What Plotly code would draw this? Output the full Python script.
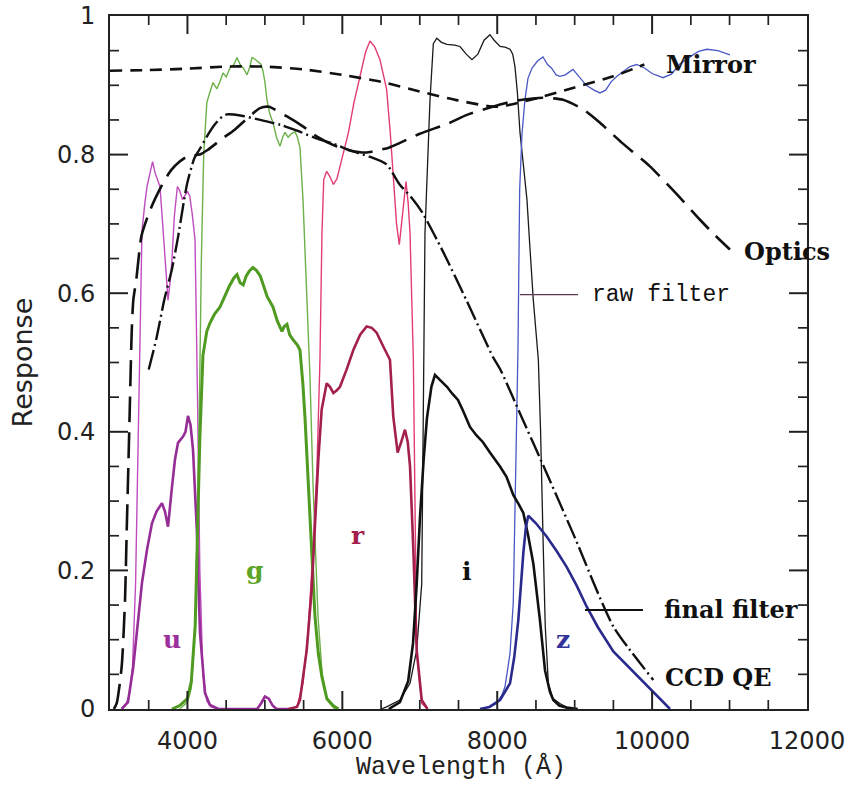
import plotly.graph_objects as go

# ---------------- data ----------------
mirror_x = [3000, 3500, 4000, 4500, 5000, 5500, 6000, 6500, 7000, 7500, 8000, 8500, 9000, 9500, 9900]
mirror_y = [0.921, 0.922, 0.924, 0.927, 0.927, 0.923, 0.915, 0.905, 0.891, 0.878, 0.869, 0.881, 0.897, 0.913, 0.930]

optics_x = [3050, 3086, 3150, 3194, 3215, 3237, 3258, 3280, 3301, 3340, 3405, 3500, 3577, 3700, 3792, 3900, 4007,
            4157, 4265, 4437, 4610, 4800, 4937, 5050, 5285, 5500, 5673, 5900, 6100, 6300, 6450, 6600, 6744, 7000,
            7390, 7600, 7906, 8200, 8591, 8849, 9100, 9327, 9600, 9972, 10300, 10618, 10800, 11005]
optics_y = [0.0, 0.008, 0.06, 0.157, 0.254, 0.35, 0.446, 0.543, 0.59, 0.62, 0.682, 0.715, 0.735, 0.762, 0.778, 0.79,
            0.798, 0.80, 0.807, 0.822, 0.836, 0.855, 0.867, 0.869, 0.855, 0.84, 0.826, 0.813, 0.806, 0.803, 0.806,
            0.81, 0.817, 0.83, 0.846, 0.857, 0.868, 0.877, 0.882, 0.879, 0.866, 0.846, 0.818, 0.783, 0.745, 0.706,
            0.685, 0.663]

ccd_x = [3500, 3600, 3700, 3800, 3880, 3950, 4000, 4090, 4170, 4250, 4350, 4450, 4510, 4700, 4940, 5200, 5450,
         5700, 5880, 6100, 6350, 6570, 6740, 6900, 7040, 7300, 7610, 7945, 8040, 8300, 8620, 9000, 9500, 10015]
ccd_y = [0.49, 0.535, 0.59, 0.635, 0.682, 0.73, 0.76, 0.795, 0.81, 0.826, 0.843, 0.855, 0.858, 0.856, 0.85, 0.843,
         0.833, 0.822, 0.816, 0.806, 0.797, 0.786, 0.757, 0.737, 0.715, 0.66, 0.588, 0.508, 0.49, 0.425, 0.345,
         0.248, 0.119, 0.042]

u_raw_x = [3150, 3200, 3250, 3290, 3330, 3360, 3390, 3413, 3450, 3478, 3510, 3550, 3581, 3645, 3680, 3710, 3749,
           3780, 3800, 3830, 3870, 3900, 3935, 4000, 4030, 4060, 4098, 4130, 4160, 4200, 4250, 4300, 4400, 4900,
           4950, 5000, 5050, 5100, 5150, 5300]
u_raw_y = [0.0, 0.005, 0.02, 0.06, 0.18, 0.38, 0.58, 0.69, 0.73, 0.754, 0.77, 0.79, 0.774, 0.754, 0.70, 0.648,
           0.59, 0.62, 0.648, 0.71, 0.754, 0.748, 0.735, 0.747, 0.74, 0.716, 0.677, 0.45, 0.2, 0.05, 0.012, 0.003,
           0.0, 0.0, 0.008, 0.018, 0.015, 0.005, 0.0, 0.0]

u_fin_x = [3150, 3232, 3300, 3362, 3413, 3478, 3542, 3600, 3671, 3710, 3749, 3800, 3839, 3878, 3943, 3975, 4007,
           4040, 4072, 4123, 4162, 4226, 4290, 4400, 4900, 4950, 5000, 5050, 5100, 5150, 5300]
u_fin_y = [0.0, 0.01, 0.06, 0.133, 0.182, 0.23, 0.268, 0.285, 0.297, 0.285, 0.263, 0.32, 0.36, 0.384, 0.393, 0.40,
           0.423, 0.41, 0.374, 0.254, 0.11, 0.023, 0.006, 0.0, 0.0, 0.008, 0.018, 0.015, 0.005, 0.0, 0.0]

g_raw_x = [3900, 4000, 4050, 4100, 4150, 4180, 4210, 4250, 4290, 4330, 4380, 4420, 4460, 4500, 4550, 4600, 4640,
           4680, 4720, 4770, 4800, 4834, 4870, 4911, 4950, 4976, 5000, 5027, 5060, 5105, 5150, 5195, 5230, 5260,
           5300, 5340, 5389, 5420, 5453, 5492, 5540, 5582, 5621, 5660, 5686, 5740, 5802, 5900]
g_raw_y = [0.0, 0.01, 0.03, 0.12, 0.4, 0.65, 0.8, 0.875, 0.89, 0.904, 0.895, 0.905, 0.918, 0.912, 0.925, 0.93,
           0.94, 0.93, 0.925, 0.915, 0.925, 0.94, 0.938, 0.934, 0.93, 0.92, 0.905, 0.879, 0.86, 0.846, 0.825, 0.812,
           0.825, 0.832, 0.825, 0.83, 0.833, 0.825, 0.81, 0.735, 0.6, 0.48, 0.326, 0.2, 0.133, 0.05, 0.013, 0.0]

g_fin_x = [3800, 3900, 4000, 4050, 4100, 4130, 4160, 4200, 4250, 4291, 4350, 4420, 4480, 4540, 4600, 4640, 4680,
           4720, 4760, 4800, 4846, 4890, 4940, 4980, 5030, 5105, 5160, 5221, 5250, 5285, 5320, 5363, 5420, 5453,
           5490, 5518, 5550, 5582, 5615, 5647, 5690, 5737, 5800, 5880, 5950]
g_fin_y = [0.0, 0.005, 0.015, 0.04, 0.12, 0.24, 0.39, 0.51, 0.545, 0.557, 0.57, 0.58, 0.595, 0.61, 0.622, 0.627,
           0.615, 0.612, 0.625, 0.632, 0.637, 0.633, 0.625, 0.61, 0.595, 0.58, 0.56, 0.545, 0.552, 0.555, 0.54,
           0.533, 0.525, 0.518, 0.47, 0.42, 0.35, 0.277, 0.2, 0.133, 0.08, 0.046, 0.015, 0.005, 0.0]

r_raw_x = [5300, 5414, 5492, 5557, 5621, 5673, 5711, 5737, 5760, 5798, 5840, 5884, 5930, 5970, 6077, 6150, 6228,
           6300, 6357, 6420, 6486, 6572, 6620, 6658, 6700, 6736, 6780, 6822, 6850, 6874, 6917, 6960, 7025, 7100]
r_raw_y = [0.0, 0.003, 0.037, 0.11, 0.23, 0.35, 0.504, 0.687, 0.764, 0.776, 0.768, 0.757, 0.765, 0.783, 0.831,
           0.875, 0.913, 0.948, 0.964, 0.955, 0.937, 0.894, 0.83, 0.764, 0.70, 0.67, 0.72, 0.761, 0.73, 0.687,
           0.504, 0.085, 0.008, 0.0]

r_fin_x = [5300, 5414, 5453, 5540, 5604, 5647, 5690, 5733, 5798, 5840, 5884, 5930, 5970, 6056, 6142, 6230, 6314,
           6380, 6443, 6529, 6615, 6658, 6714, 6760, 6809, 6845, 6874, 6917, 6960, 7025, 7100]
r_fin_y = [0.0, 0.003, 0.013, 0.085, 0.172, 0.277, 0.36, 0.432, 0.47, 0.465, 0.456, 0.46, 0.465, 0.49, 0.518,
           0.54, 0.552, 0.55, 0.543, 0.523, 0.504, 0.422, 0.37, 0.385, 0.403, 0.385, 0.35, 0.23, 0.085, 0.013, 0.0]

i_raw_x = [6500, 6572, 6744, 6874, 6960, 7025, 7067, 7100, 7132, 7175, 7220, 7280, 7351, 7450, 7519, 7600, 7674,
           7750, 7830, 7906, 7960, 8036, 8100, 8165, 8200, 8229, 8260, 8294, 8340, 8384, 8420, 8466, 8531, 8560,
           8595, 8620, 8660, 8720, 8810, 8900, 9000]
i_raw_y = [0.0, 0.003, 0.013, 0.037, 0.085, 0.18, 0.687, 0.80, 0.879, 0.96, 0.968, 0.962, 0.959, 0.958, 0.956,
           0.945, 0.937, 0.945, 0.965, 0.973, 0.965, 0.956, 0.955, 0.952, 0.945, 0.927, 0.89, 0.832, 0.78, 0.735,
           0.67, 0.59, 0.504, 0.40, 0.23, 0.12, 0.037, 0.015, 0.008, 0.002, 0.0]

i_fin_x = [6600, 6744, 6850, 6913, 6960, 7003, 7050, 7093, 7150, 7196, 7260, 7351, 7420, 7493, 7560, 7648, 7730,
           7816, 7906, 7970, 8036, 8120, 8207, 8280, 8337, 8400, 8466, 8552, 8617, 8680, 8724, 8800, 8900, 9040]
i_fin_y = [0.0, 0.01, 0.04, 0.095, 0.18, 0.277, 0.36, 0.42, 0.465, 0.482, 0.475, 0.465, 0.455, 0.446, 0.43, 0.407,
           0.395, 0.385, 0.37, 0.36, 0.35, 0.335, 0.309, 0.295, 0.283, 0.25, 0.21, 0.128, 0.056, 0.025, 0.013,
           0.005, 0.002, 0.0]

z_raw_x = [7778, 7900, 7993, 8060, 8100, 8165, 8207, 8229, 8250, 8268, 8290, 8320, 8358, 8397, 8450, 8520, 8591,
           8650, 8700, 8760, 8810, 8880, 8978, 9060, 9150, 9250, 9327, 9400, 9470, 9546, 9630, 9714, 9800, 9900,
           10000, 10140, 10250, 10350, 10489, 10600, 10708, 10850, 11005]
z_raw_y = [0.0, 0.003, 0.008, 0.02, 0.032, 0.08, 0.153, 0.297, 0.42, 0.52, 0.75, 0.83, 0.879, 0.91, 0.925, 0.935,
           0.941, 0.93, 0.925, 0.915, 0.913, 0.915, 0.923, 0.912, 0.90, 0.893, 0.889, 0.893, 0.905, 0.913, 0.92,
           0.927, 0.93, 0.925, 0.917, 0.911, 0.916, 0.93, 0.941, 0.949, 0.952, 0.95, 0.944]

z_fin_x = [7778, 7900, 8036, 8100, 8165, 8220, 8272, 8337, 8370, 8401, 8500, 8638, 8767, 8896, 9026, 9154, 9300,
           9499, 9650, 9800, 10000, 10120, 10231]
z_fin_y = [0.0, 0.003, 0.013, 0.025, 0.037, 0.075, 0.128, 0.225, 0.262, 0.279, 0.268, 0.249, 0.228, 0.205, 0.178,
           0.148, 0.118, 0.083, 0.066, 0.049, 0.027, 0.014, 0.0]

x_range = [3000, 12000]
y_range = [0, 1]
x_tick_step = 2000
y_tick_step = 0.2
x_minor_step = 500
y_minor_step = 0.05

band_labels = ["u", "g", "r", "i", "z"]
band_label_x = [3800, 4872, 6202, 7610, 8849]
band_label_y = [0.10, 0.20, 0.251, 0.198, 0.10]
band_label_colors = ["#9b2f9b", "#5ca326", "#a3204c", "#111111", "#33339a"]

curve_labels = ["Mirror", "Optics", "final filter", "CCD QE"]
curve_label_x = [10760, 11741, 11018, 10851]
curve_label_y = [0.930, 0.660, 0.143, 0.046]

raw_label = "raw filter"
raw_label_x, raw_label_y = 10115, 0.598
raw_pointer_x = [8294, 9043]
final_pointer_x = [9133, 9882]

# ---------------- figure ----------------
fig = go.Figure()

def add_line(x, y, color, width, dash="solid", shape="linear"):
    line = dict(color=color, width=width, dash=dash, shape=shape)
    if shape == "spline":
        line["smoothing"] = 0.6
    fig.add_trace(go.Scatter(x=x, y=y, mode="lines", line=line,
                             hoverinfo="skip", showlegend=False))

# raw filters (thin)
add_line(u_raw_x, u_raw_y, "#c04cc0", 1.4)
add_line(g_raw_x, g_raw_y, "#6cb14a", 1.4)
add_line(r_raw_x, r_raw_y, "#e23c78", 1.4)
add_line(i_raw_x, i_raw_y, "#1a1a1a", 1.3)
add_line(z_raw_x, z_raw_y, "#4a58c4", 1.3)

# final filters (thick)
add_line(u_fin_x, u_fin_y, "#962d96", 2.6)
add_line(g_fin_x, g_fin_y, "#4f9a20", 3.0)
add_line(r_fin_x, r_fin_y, "#a3204c", 2.6)
add_line(i_fin_x, i_fin_y, "#111111", 2.6)
add_line(z_fin_x, z_fin_y, "#2a2a8c", 2.6)

# mirror, optics, CCD QE
add_line(mirror_x, mirror_y, "#111111", 2.6, dash="12px,8px", shape="spline")
add_line(optics_x, optics_y, "#111111", 2.6, dash="26px,10px", shape="spline")
add_line(ccd_x, ccd_y, "#111111", 2.4, dash="20px,4px,2px,4px", shape="spline")

# pointer lines for labels
fig.add_trace(go.Scatter(x=raw_pointer_x, y=[raw_label_y] * 2, mode="lines",
                         line=dict(color="#5a3a50", width=1.3), hoverinfo="skip", showlegend=False))
fig.add_trace(go.Scatter(x=final_pointer_x, y=[curve_label_y[2]] * 2, mode="lines",
                         line=dict(color="#111111", width=2.0), hoverinfo="skip", showlegend=False))

# ---------------- inside tick marks on all four sides ----------------
# positions along the axis use the data axes; the frame side uses paper coordinates
# (paper-referenced shapes are not clipped by the plotting area)
tick_color = "#222222"
shapes = []

def steps(lo, hi, step):
    n0 = int(round(lo / step))
    n1 = int(round(hi / step))
    return [round(k * step, 6) for k in range(n0, n1 + 1)]

def is_major(v, step):
    return abs(v / step - round(v / step)) < 1e-6

for v in steps(x_range[0], x_range[1], x_minor_step):
    if v <= x_range[0] or v >= x_range[1]:
        continue
    major = is_major(v, x_tick_step)
    length = 18 if major else 9
    width = 2.0 if major else 1.7
    for anchor, sign in ((0, 1), (1, -1)):
        shapes.append(dict(type="line", xref="x", yref="paper", x0=v, x1=v,
                           ysizemode="pixel", yanchor=anchor, y0=0, y1=sign * length,
                           line=dict(color=tick_color, width=width), layer="above"))

for v in steps(y_range[0], y_range[1], y_minor_step):
    if v <= y_range[0] or v >= y_range[1]:
        continue
    major = is_major(v, y_tick_step)
    length = 18 if major else 9
    width = 2.0 if major else 1.7
    for anchor, sign in ((0, 1), (1, -1)):
        shapes.append(dict(type="line", xref="paper", yref="y", y0=v, y1=v,
                           xsizemode="pixel", xanchor=anchor, x0=0, x1=sign * length,
                           line=dict(color=tick_color, width=width), layer="above"))

annotations = []
for t, x, y, c in zip(band_labels, band_label_x, band_label_y, band_label_colors):
    annotations.append(dict(x=x, y=y, xref="x", yref="y", text="<b>%s</b>" % t, showarrow=False,
                            font=dict(family="DejaVu Serif", size=25, color=c)))
for t, x, y in zip(curve_labels, curve_label_x, curve_label_y):
    annotations.append(dict(x=x, y=y, xref="x", yref="y", text="<b>%s</b>" % t, showarrow=False,
                            font=dict(family="DejaVu Serif", size=24, color="#111111")))
annotations.append(dict(x=raw_label_x, y=raw_label_y, xref="x", yref="y", text=raw_label, showarrow=False,
                        font=dict(family="Liberation Mono", size=23, color="#111111")))
annotations.append(dict(x=0.504, y=-0.083, xref="paper", yref="paper", text="Wavelength (Å)", showarrow=False,
                        xanchor="center", yanchor="middle",
                        font=dict(family="Liberation Mono", size=25, color="#222222")))
annotations.append(dict(x=-0.125, y=0.5, xref="paper", yref="paper", text="Response", showarrow=False,
                        textangle=-90, xanchor="center", yanchor="middle",
                        font=dict(family="DejaVu Sans", size=27, color="#222222")))

# axes: frame lines + labels; transparent outside ticks only push labels away from the frame
axis_common = dict(showline=True, linewidth=2, linecolor="#222222", mirror=True,
                   ticks="outside", tickcolor="rgba(0,0,0,0)",
                   showgrid=False, zeroline=False, automargin=False, tickmode="linear", tick0=0,
                   ticklabeloverflow="allow",
                   tickfont=dict(family="DejaVu Sans", size=24, color="#222222"))

fig.update_layout(
    width=851, height=789,
    margin=dict(l=110, r=44, t=16, b=80),
    paper_bgcolor="white", plot_bgcolor="white",
    showlegend=False,
    annotations=annotations,
    shapes=shapes,
    xaxis=dict(range=x_range, dtick=x_tick_step, tickformat="d", ticklen=9, **axis_common),
    yaxis=dict(range=y_range, dtick=y_tick_step, ticklen=8, **axis_common),
)

# remove the browser's default 8px body margin so the figure fills the window exactly
fig.write_html("out.html",
               config={"displayModeBar": False},
               post_script="document.body.style.margin='0';document.body.style.overflow='hidden';")
